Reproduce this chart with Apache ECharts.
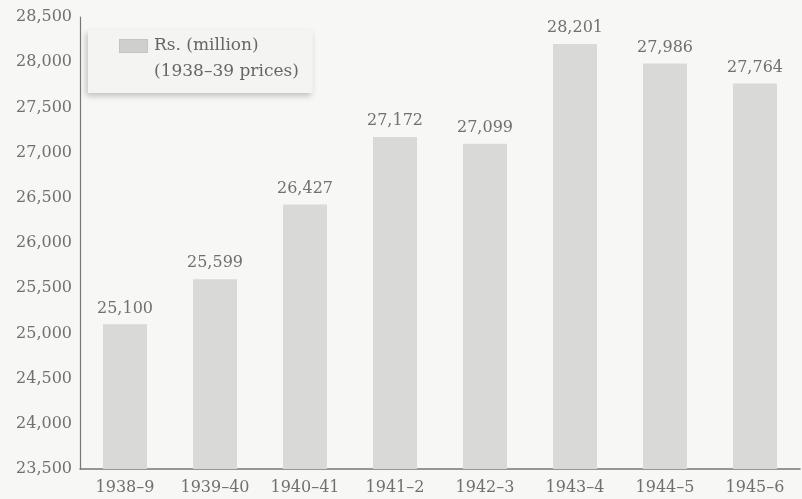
<!DOCTYPE html>
<html><head><meta charset="utf-8">
<script src="https://cdn.jsdelivr.net/npm/echarts@6/dist/echarts.min.js"></script>
<style>html,body{margin:0;padding:0;background:#f7f7f5}#c{width:802px;height:499px}</style>
</head><body><div id="c"></div>
<script>
const categories = ['1938–9','1939–40','1940–41','1941–2','1942–3','1943–4','1944–5','1945–6'];
const values = [25100, 25599, 26427, 27172, 27099, 28201, 27986, 27764];
const seriesName = 'Rs. (million)';
const seriesNote = '(1938–39 prices)';
const yMin = 23500, yMax = 28500, yStep = 500;

const font = 'DejaVu Serif';
const chart = echarts.init(document.getElementById('c'), null, {renderer:'canvas'});
chart.setOption({
  backgroundColor: '#f7f7f5',
  animation: false,
  grid: {left: 80, right: 2, top: 17, bottom: 30, containLabel: false},
  legend: {
    left: 88, top: 30,
    data: [seriesName],
    icon: 'rect', itemWidth: 1, itemHeight: 1,
    itemStyle: {opacity: 0},
    padding: [3, 14, 8, 26],
    backgroundColor: '#f4f4f2',
    shadowColor: 'rgba(0,0,0,0.22)', shadowBlur: 6, shadowOffsetX: -2, shadowOffsetY: 3,
    formatter: name => '{sw|}{t|' + name + '}\n{ind|}{t|' + seriesNote + '}',
    textStyle: {fontFamily: font, fontSize: 17, color: '#666', lineHeight: 26,
      rich: {
        sw: {width: 27, height: 12, backgroundColor: '#cfcfcd', borderColor: '#c4c4c2', borderWidth: 1},
        ind: {width: 27},
        t: {fontFamily: font, fontSize: 17, color: '#666', lineHeight: 26, padding: [0, 0, 0, 7]}
      }},
    selectedMode: false
  },
  xAxis: {
    type: 'category', data: categories,
    axisLine: {lineStyle: {color: '#777', width: 1.5}},
    axisTick: {show: false},
    axisLabel: {fontFamily: font, fontSize: 16, color: '#707070', margin: 11}
  },
  yAxis: {
    type: 'value', min: yMin, max: yMax, interval: yStep,
    axisLine: {show: true, lineStyle: {color: '#777', width: 1.2}},
    axisTick: {show: false},
    splitLine: {show: false},
    axisLabel: {fontFamily: font, fontSize: 16, color: '#707070', margin: 8,
      formatter: v => v.toLocaleString('en-US')}
  },
  series: [{
    name: seriesName, type: 'bar', data: values, barWidth: 44,
    itemStyle: {color: '#d9d9d7'},
    label: {show: true, position: 'top', distance: 8, fontFamily: font, fontSize: 16, color: '#707070',
      formatter: p => p.value.toLocaleString('en-US')}
  }]
});
</script></body></html>
